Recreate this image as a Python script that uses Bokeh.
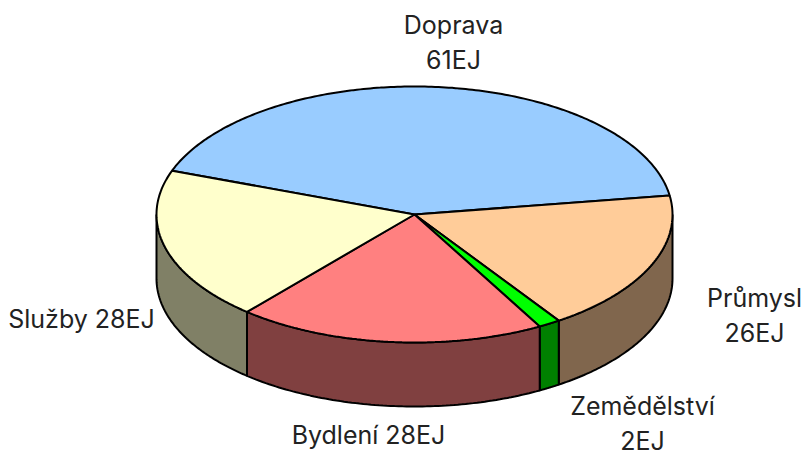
import numpy as np
from bokeh.plotting import figure
from bokeh.embed import file_html
from bokeh.resources import INLINE
from bokeh.core.properties import value
from bokeh.models import Range1d

categories = ["Doprava", "Průmysl", "Zemědělství", "Bydlení", "Služby"]
values = [61, 26, 2, 28, 28]
top_colors = ["#99CCFF", "#FFCC99", "#00FF00", "#FF8080", "#FFFFCC"]
side_colors = ["#4D6680", "#80664D", "#008000", "#804040", "#808066"]
label_lines = [["Doprava", "61EJ"], ["Průmysl", "26EJ"], ["Zemědělství", "2EJ"], ["Bydlení 28EJ"], ["Služby 28EJ"]]
label_xy = [(453, 42), (754, 315), (642, 423), (368, 434), (81, 318)]

W, H = 802, 457
CX, CY, RX, RY, DEPTH = 414, 214, 258, 128, 64
START = 160.0

p = figure(width=W, height=H, output_backend="svg", toolbar_location=None,
           x_range=Range1d(0, W), y_range=Range1d(H, 0),
           min_border=0, outline_line_color=None)
p.axis.visible = False
p.grid.visible = False

def pt(a, dz=0):
    r = np.radians(a)
    return CX + RX * np.cos(r), CY - RY * np.sin(r) + dz

total = sum(values)
a0 = START
spans = []
for v in values:
    a1 = a0 - v / total * 360
    spans.append((a0, a1))
    a0 = a1

# side walls: only the front half of the rim (angles 0..-180) is visible
for (a, b), c in zip(spans, side_colors):
    s2, e2 = min(a, 0), max(b, -180)
    if s2 > e2:
        t = np.linspace(s2, e2, 80)
        xs, ys = pt(t)
        xb, yb = pt(t[::-1], DEPTH)
        p.patch(np.r_[xs, xb], np.r_[ys, yb], fill_color=c, line_color="black", line_width=2)

# top slices
for (a, b), c in zip(spans, top_colors):
    t = np.linspace(a, b, 200)
    xs, ys = pt(t)
    p.patch(np.r_[CX, xs], np.r_[CY, ys], fill_color=c, line_color="black", line_width=2)

for lines, (x, y) in zip(label_lines, label_xy):
    n = len(lines)
    for i, s in enumerate(lines):
        p.text([x], [y + (i - (n - 1) / 2) * 34.5], text=[s], text_align="center", text_baseline="middle",
               text_font=value("Inter"), text_font_size="25px", text_color="#222222")

open("out.html", "w").write(file_html(p, INLINE))
